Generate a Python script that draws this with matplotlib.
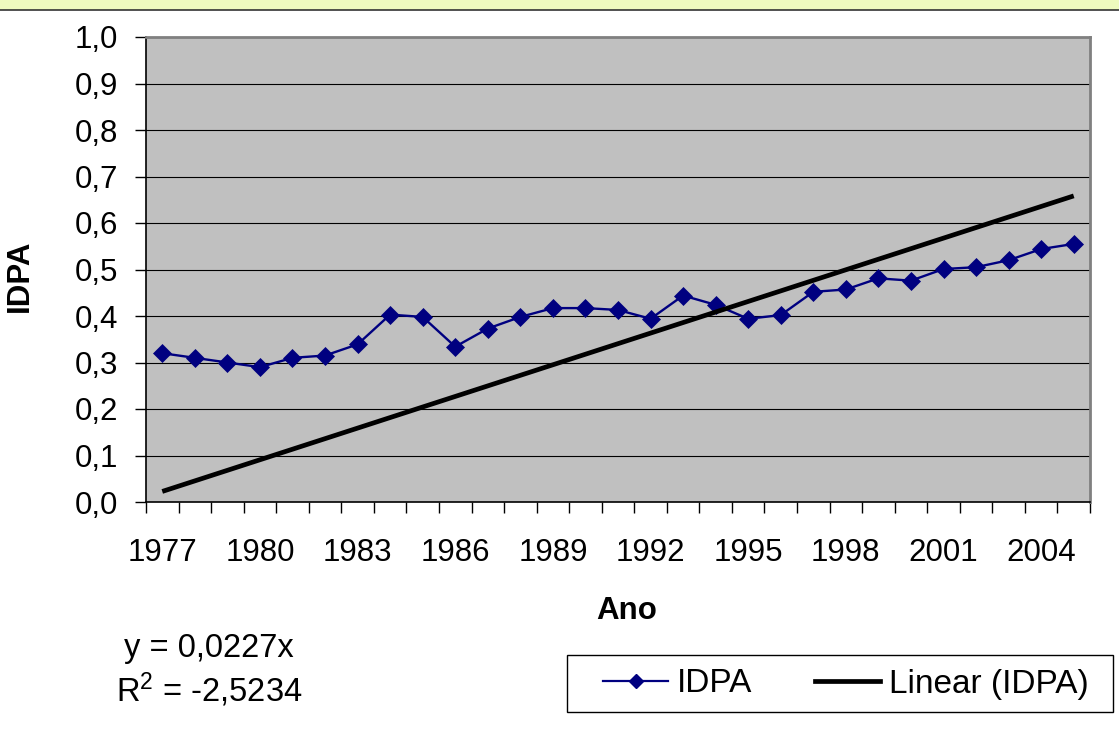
import matplotlib.pyplot as plt
from matplotlib.patches import Rectangle
from matplotlib.lines import Line2D

plt.rcParams["font.family"] = ["Liberation Sans", "DejaVu Sans"]
plt.rcParams["mathtext.fontset"] = "custom"
plt.rcParams["mathtext.rm"] = "Liberation Sans"
plt.rcParams["mathtext.it"] = "Liberation Sans"
plt.rcParams["mathtext.default"] = "rm"

years = list(range(1977, 2006))
idpa = [0.320, 0.310, 0.300, 0.290, 0.310, 0.315, 0.339, 0.403, 0.398, 0.334,
        0.373, 0.398, 0.417, 0.417, 0.413, 0.394, 0.444, 0.424, 0.394, 0.402,
        0.452, 0.457, 0.481, 0.476, 0.501, 0.505, 0.520, 0.544, 0.555]
trend_slope = 0.0227
y_ticks = [0.0, 0.1, 0.2, 0.3, 0.4, 0.5, 0.6, 0.7, 0.8, 0.9, 1.0]
y_labels = ["0,0", "0,1", "0,2", "0,3", "0,4", "0,5", "0,6", "0,7", "0,8", "0,9", "1,0"]
x_label_years = list(range(1977, 2006, 3))

cat = list(range(1, len(years) + 1))
trend = [trend_slope * c for c in cat]

FS = 22.5
W, H = 1119, 742

fig = plt.figure(figsize=(11.19, 7.42), dpi=100)
fig.patch.set_facecolor("white")

# top band
fig.add_artist(Rectangle((0, 1 - 9.5 / H), 1, 9.5 / H, transform=fig.transFigure,
                         facecolor="#EEFABE", edgecolor="none"))
fig.add_artist(Line2D([0, 1], [1 - 10 / H, 1 - 10 / H], transform=fig.transFigure,
                      color="#333333", lw=1.2))

ax = fig.add_axes([146 / W, 1 - 502 / H, (1090 - 146) / W, (502 - 37) / H])
ax.set_facecolor("#C0C0C0")

for v in y_ticks[1:]:
    ax.axhline(v, color="black", lw=0.8, zorder=1)

ax.plot(cat, idpa, color="#000080", lw=1.7, marker="D", ms=9.5,
        markeredgewidth=0.5, label="IDPA", zorder=3)
ax.plot(cat, trend, color="black", lw=3.4, label="Linear (IDPA)",
        solid_capstyle="butt", zorder=4)

ax.set_xlim(0.5, len(years) + 0.5)
ax.set_ylim(0, 1.0)

ax.set_yticks(y_ticks)
ax.set_yticklabels(y_labels)

ax.set_xticks([c + 0.5 for c in range(0, len(years) + 1)])
ax.set_xticklabels([])
ax.set_xticks([years.index(y) + 1 for y in x_label_years], minor=True)
ax.set_xticklabels([str(y) for y in x_label_years], minor=True)

ax.tick_params(axis="y", which="major", length=8, width=1, pad=12, labelsize=FS)
ax.tick_params(axis="x", which="major", length=8, width=1, direction="out")
ax.tick_params(axis="x", which="minor", length=0, pad=26, labelsize=FS)

for s in ["top", "right"]:
    ax.spines[s].set_color("#808080")
    ax.spines[s].set_linewidth(2)
for s in ["left", "bottom"]:
    ax.spines[s].set_color("black")
    ax.spines[s].set_linewidth(1.2)

fig.text(627 / W, 1 - 611 / H, "Ano", ha="center", va="center",
         fontsize=FS, fontweight="bold")
fig.text(20 / W, 1 - 276 / H, "IDPA", ha="center", va="center",
         rotation=90, fontsize=FS, fontweight="bold")

fig.text(209 / W, 1 - 648 / H, "y = 0,0227x", ha="center", va="center", fontsize=23.5)
fig.text(209 / W, 1 - 690 / H, r"R$^{2}$ = -2,5234", ha="center", va="center", fontsize=23.5)

# legend box
fig.add_artist(Rectangle((567 / W, 1 - 712 / H), (1113 - 567) / W, (712 - 655) / H,
                         transform=fig.transFigure, facecolor="white",
                         edgecolor="black", lw=1.0))
handles = [Line2D([], [], color="#000080", lw=1.6, marker="D", ms=7),
           Line2D([], [], color="black", lw=3.4)]
leg = fig.legend(handles, ["IDPA", "Linear (IDPA)"], loc="center",
                 bbox_to_anchor=(846 / W, 1 - 684 / H), ncol=2, fontsize=24,
                 frameon=False, handlelength=1.95, handletextpad=0.25,
                 columnspacing=1.9, borderpad=0, borderaxespad=0)

fig.savefig("out.png", dpi=100)
